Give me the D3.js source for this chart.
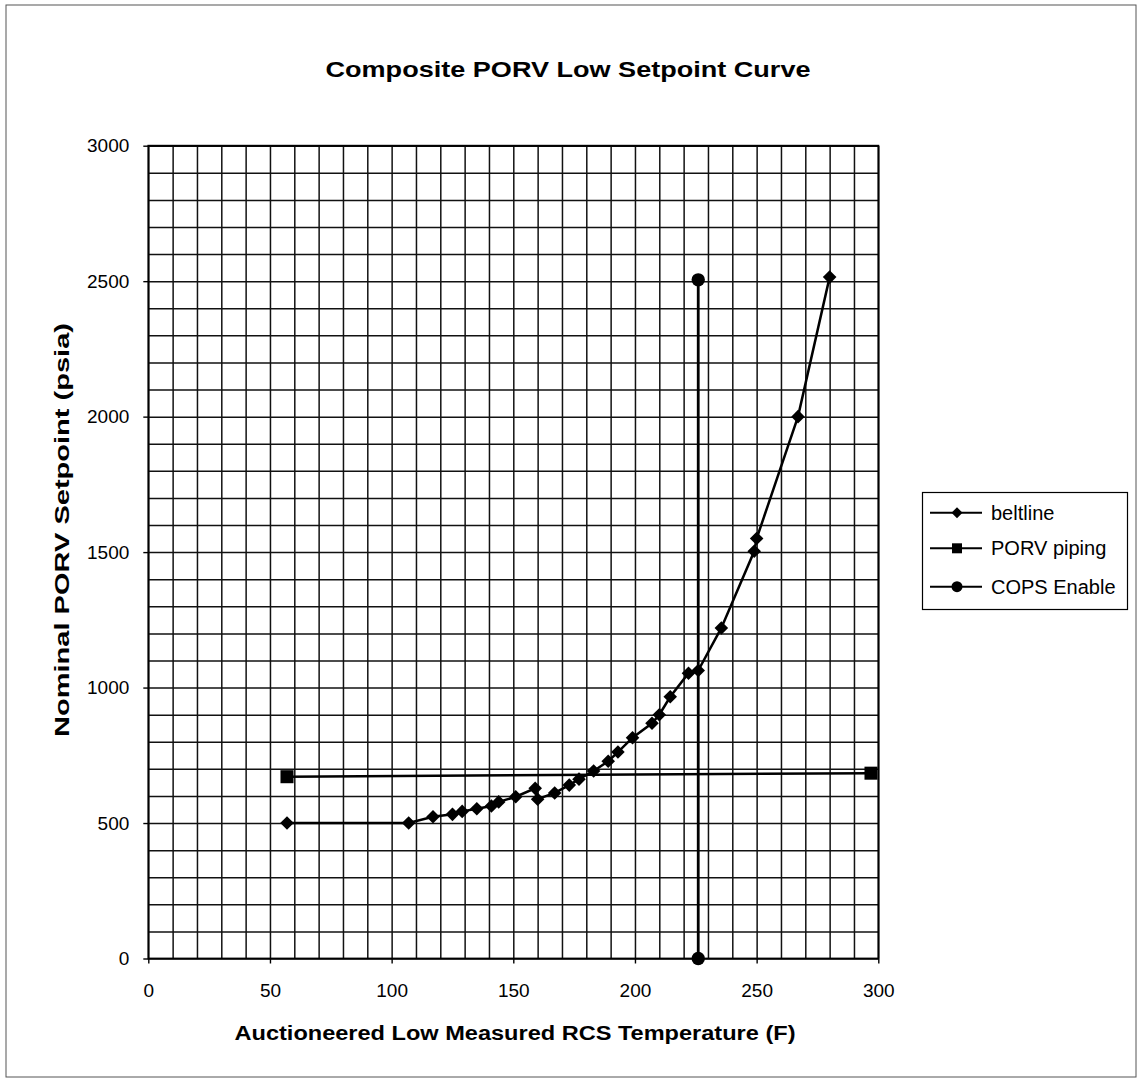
<!DOCTYPE html>
<html>
<head>
<meta charset="utf-8">
<script src="https://cdn.jsdelivr.net/npm/d3@7"></script>
<style>
  html, body { margin: 0; padding: 0; background: #fff; }
  svg { display: block; font-family: "Liberation Sans", Arial, sans-serif; }
</style>
</head>
<body>
<svg id="chart" width="1142" height="1082"></svg>
<script>
// ---- data ----
const chartTitle = "Composite PORV Low Setpoint Curve";
const xTitle = "Auctioneered Low Measured RCS Temperature (F)";
const yTitle = "Nominal PORV Setpoint (psia)";
const seriesNames = ["beltline", "PORV piping", "COPS Enable"];

const beltlineX = [57, 107, 117, 125, 129, 135, 141, 144, 151, 159, 160, 167, 173, 177, 183, 189, 193, 199, 207, 210, 214.5, 222, 226, 235.5, 249, 250, 267, 280];
const beltlineY = [500, 500, 523, 532, 543, 553, 563, 578, 597, 628, 588, 611, 640, 662, 692, 728, 762, 815, 868, 900, 966, 1053, 1063, 1220, 1503, 1550, 2000, 2515];
const porvX = [57, 297];
const porvY = [671, 684];
const copsX = [226, 226];
const copsY = [2505, 0];

const xTicks = [0, 50, 100, 150, 200, 250, 300];
const yTicks = [0, 500, 1000, 1500, 2000, 2500, 3000];
const xMinorStep = 10;
const yMinorStep = 100;

// ---- layout ----
const svg = d3.select("#chart");
const x = d3.scaleLinear().domain([0, 300]).range([148.3, 878.3]);
const y = d3.scaleLinear().domain([0, 3000]).range([958.5, 145.7]);

// outer frame
svg.append("rect").attr("x", 6).attr("y", 5).attr("width", 1130).attr("height", 1072)
  .attr("fill", "none").attr("stroke", "#555").attr("stroke-width", 1);

// title
svg.append("text").attr("x", 568).attr("y", 77).attr("text-anchor", "middle")
  .attr("font-size", 22).attr("font-weight", "bold")
  .attr("textLength", 485).attr("lengthAdjust", "spacingAndGlyphs")
  .text(chartTitle);

// grid
const g = svg.append("g");
const xMinor = d3.range(0, 300 + 0.001, xMinorStep);
const yMinor = d3.range(0, 3000 + 0.001, yMinorStep);
g.append("g").attr("transform", `translate(0,${y(0)})`)
  .call(d3.axisBottom(x).tickValues(xMinor).tickSize(-(y(0) - y(3000))).tickFormat(""))
  .call(s => s.select(".domain").remove())
  .call(s => s.selectAll("line").attr("stroke", "#111").attr("stroke-width", 1.5));
g.append("g").attr("transform", `translate(${x(0)},0)`)
  .call(d3.axisLeft(y).tickValues(yMinor).tickSize(-(x(300) - x(0))).tickFormat(""))
  .call(s => s.select(".domain").remove())
  .call(s => s.selectAll("line").attr("stroke", "#111").attr("stroke-width", 1.5));

// plot border
g.append("rect").attr("x", x(0)).attr("y", y(3000))
  .attr("width", x(300) - x(0)).attr("height", y(0) - y(3000))
  .attr("fill", "none").attr("stroke", "#000").attr("stroke-width", 1.8);

// axes with labels
const xAxis = svg.append("g").attr("transform", `translate(0,${y(0)})`)
  .call(d3.axisBottom(x).tickValues(xTicks).tickSize(5).tickPadding(20).tickFormat(d3.format("d")));
xAxis.select(".domain").remove();
xAxis.selectAll("line").attr("stroke", "#000").attr("stroke-width", 1.4);
xAxis.selectAll("text").attr("font-size", 19).attr("fill", "#000").attr("font-family", "Liberation Sans, Arial, sans-serif");

const yAxis = svg.append("g").attr("transform", `translate(${x(0)},0)`)
  .call(d3.axisLeft(y).tickValues(yTicks).tickSize(5).tickPadding(14).tickFormat(d3.format("d")));
yAxis.select(".domain").remove();
yAxis.selectAll("line").attr("stroke", "#000").attr("stroke-width", 1.4);
yAxis.selectAll("text").attr("font-size", 19).attr("fill", "#000").attr("font-family", "Liberation Sans, Arial, sans-serif");

// axis titles
svg.append("text").attr("x", 515).attr("y", 1040).attr("text-anchor", "middle")
  .attr("font-size", 20).attr("font-weight", "bold")
  .attr("textLength", 561).attr("lengthAdjust", "spacingAndGlyphs")
  .text(xTitle);
svg.append("text").attr("transform", "translate(69,530) rotate(-90)").attr("text-anchor", "middle")
  .attr("font-size", 20).attr("font-weight", "bold")
  .attr("textLength", 414).attr("lengthAdjust", "spacingAndGlyphs")
  .text(yTitle);

// series
const line = d3.line().x(d => x(d[0])).y(d => y(d[1]));
const belt = d3.zip(beltlineX, beltlineY);
const porv = d3.zip(porvX, porvY);
const cops = d3.zip(copsX, copsY);

const diamond = d3.symbol().type(d3.symbolSquare).size(92);
const square = d3.symbol().type(d3.symbolSquare).size(170);
const circle = d3.symbol().type(d3.symbolCircle).size(140);

const plot = svg.append("g");
plot.append("path").datum(porv).attr("d", line).attr("fill", "none").attr("stroke", "#000").attr("stroke-width", 2.5);
plot.append("path").datum(cops).attr("d", line).attr("fill", "none").attr("stroke", "#000").attr("stroke-width", 2.8);
plot.append("path").datum(belt).attr("d", line).attr("fill", "none").attr("stroke", "#000").attr("stroke-width", 2.5);

plot.selectAll(".belt").data(belt).join("path").attr("class", "belt")
  .attr("d", diamond).attr("transform", d => `translate(${x(d[0])},${y(d[1])}) rotate(45)`).attr("fill", "#000");
plot.selectAll(".porv").data(porv).join("path").attr("class", "porv")
  .attr("d", square).attr("transform", d => `translate(${x(d[0])},${y(d[1])})`).attr("fill", "#000");
plot.selectAll(".cops").data(cops).join("path").attr("class", "cops")
  .attr("d", circle).attr("transform", d => `translate(${x(d[0])},${y(d[1])})`).attr("fill", "#000");

// legend
const leg = svg.append("g");
leg.append("rect").attr("x", 922.5).attr("y", 492.5).attr("width", 205).attr("height", 117)
  .attr("fill", "#fff").attr("stroke", "#000").attr("stroke-width", 1.2);
const legY = [512.7, 548.3, 586.7];
const legSyms = [
  d3.symbol().type(d3.symbolSquare).size(60),
  d3.symbol().type(d3.symbolSquare).size(100),
  d3.symbol().type(d3.symbolCircle).size(95)
];
seriesNames.forEach((name, i) => {
  const ly = legY[i];
  leg.append("line").attr("x1", 930).attr("x2", 982).attr("y1", ly).attr("y2", ly)
    .attr("stroke", "#000").attr("stroke-width", 2);
  leg.append("path").attr("d", legSyms[i])
    .attr("transform", `translate(957,${ly})` + (i === 0 ? " rotate(45)" : "")).attr("fill", "#000");
  leg.append("text").attr("x", 991).attr("y", ly + 7).attr("font-size", 20).attr("fill", "#000").text(name);
});
</script>
</body>
</html>
